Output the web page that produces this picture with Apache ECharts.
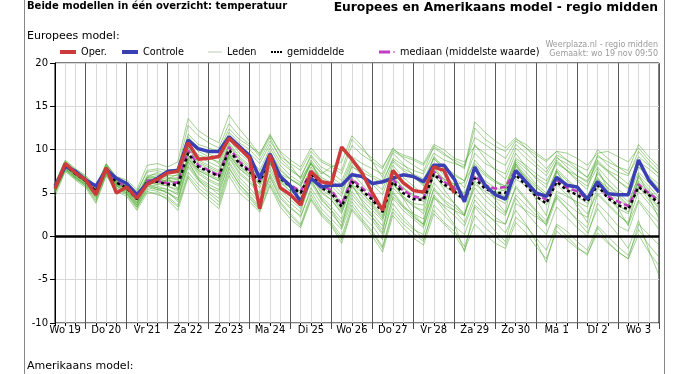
<!DOCTYPE html>
<html><head><meta charset="utf-8">
<script src="https://cdn.jsdelivr.net/npm/echarts@6/dist/echarts.min.js"></script>
<style>html,body{margin:0;padding:0;background:#fff;}#c{width:677px;height:374px;}</style>
</head><body><div id="c"></div>
<script>
// ---- data ----
const days = ['Wo 19','Do 20','Vr 21','Za 22','Zo 23','Ma 24','Di 25','Wo 26','Do 27','Vr 28','Za 29','Zo 30','Ma 1','Di 2','Wo 3','Do 4'];
const hours = ['06','12','18','00'];
const yMin = -10, yMax = 20, yStep = 5;

const oper = [5.5,8.4,7.3,6.5, 4.8,7.9,5.0,5.7, 4.4,6.0,6.6,7.3, 7.5,10.8,8.9,9.0, 9.2,11.3,10.2,9.0,
  3.2,9.4,5.6,4.8, 3.6,7.5,6.3,6.1, 10.3,8.9,7.3,5.0, 3.0,7.6,6.2,5.3, 5.1,8.0,7.6,5.0,
  null,null,null,null, null,null,null,null, null,null,null,null, null,null,null,null, null,null,null,null];
const controle = [5.8,8.1,7.5,6.5, 5.8,7.7,6.7,6.1, 4.8,6.1,6.7,7.5, 7.6,11.1,10.1,9.8, 9.8,11.5,10.4,9.3,
  6.7,9.5,6.9,5.8, 4.0,6.7,5.7,5.9, 5.9,7.1,6.9,6.1, 6.3,6.7,7.1,6.9, 6.3,8.2,8.2,6.6,
  4.0,8.0,5.9,4.8, 4.3,7.6,6.3,5.0, 4.6,6.8,5.9,5.7, 4.3,6.3,4.9,4.8, 4.8,8.8,6.5,5.1];
const gemiddelde = [5.6,8.2,7.2,6.4, 5.2,7.8,6.2,5.6, 4.3,6.3,6.3,6.0, 5.9,9.6,8.0,7.5, 6.9,10.0,8.4,7.5,
  6.3,8.8,6.7,5.7, 5.0,7.3,5.6,5.0, 3.4,6.3,5.3,4.2, 2.8,6.3,5.0,4.3, 4.2,7.2,6.0,5.2,
  4.2,6.7,5.5,5.0, 5.0,7.1,5.9,4.6, 3.8,6.3,5.3,4.8, 4.0,5.9,4.4,3.6, 3.1,5.7,4.8,3.8];
const mediaan = [5.7,8.3,7.3,6.5, 5.3,7.9,6.3,5.7, 4.4,6.4,6.4,6.1, 6.2,9.9,8.2,7.6, 7.0,10.3,8.6,7.6,
  6.5,9.0,6.9,5.9, 5.2,7.5,5.9,5.3, 3.7,6.6,5.6,4.5, 3.1,6.6,5.3,4.6, 4.4,7.5,6.3,5.6,
  4.4,7.0,5.9,5.5, 5.7,7.6,6.2,4.9, 4.2,6.5,5.6,5.2, 4.3,6.1,4.6,4.0, 3.5,6.0,5.0,4.1];
const leden = [
  [5.9,8.6,7.6,6.8, 5.6,8.2,6.6,6.0, 4.8,7.0,7.2,7.0, 7.0,11.5,10.2,9.5, 9.0,12.0,10.8,10.0, 8.8,11.0,9.2,8.4, 7.6,9.8,8.6,8.0, 7.2,10.5,9.4,8.6, 7.8,10.2,9.0,8.2, 7.5,10.4,9.6,8.6, 7.8,12.5,11.2,10.4, 9.8,11.2,10.6,9.6, 8.8,9.8,9.6,9.0, 8.2,9.6,9.8,9.2, 8.6,10.2,8.8,7.6],
  [5.2,7.8,6.9,6.0, 4.6,7.4,5.8,5.2, 3.6,5.8,5.6,5.0, 4.4,8.2,6.6,5.8, 4.8,8.6,6.8,5.6, 4.2,7.0,4.6,3.4, 2.2,5.6,3.8,2.6, 1.2,4.4,3.0,1.8, 0.2,3.8,2.2,1.0, -0.4,3.0,1.6,0.6, -1.2,2.4,1.0,0.0, -1.0,2.2,1.2,-0.2, -1.6,1.4,0.6,-0.6, -1.6,1.2,0.0,-1.2, -2.2,0.8,-1.0,-2.4],
  [5.4,8.0,7.0,6.2, 5.0,7.6,6.0,5.4, 4.0,6.0,6.2,5.8, 5.2,9.0,7.6,7.0, 6.4,9.6,8.0,7.2, 6.0,8.4,6.2,5.2, 4.4,6.8,5.0,4.2, 2.8,5.8,4.6,3.4, 2.0,5.6,4.4,3.6, 2.6,6.2,4.8,3.8, 2.6,5.6,4.2,3.2, 2.4,5.8,4.4,3.0, 1.8,4.6,3.2,1.8, 0.4,3.2,1.6,0.2, -1.4,1.8,-1.6,-4.5],
  [5.8,8.4,7.4,6.6, 5.4,8.0,6.4,5.8, 4.6,6.8,6.8,6.6, 6.8,10.8,9.2,8.6, 8.0,11.2,9.6,8.6, 7.2,9.6,7.6,6.6, 5.8,8.4,6.8,6.2, 5.0,8.0,7.4,6.8, 6.0,9.0,8.2,7.6, 7.2,9.6,8.8,8.4, 8.0,13.2,12.0,11.0, 10.2,11.4,10.2,9.0, 7.8,9.2,8.0,7.0, 6.2,8.4,7.6,7.0, 6.0,8.6,7.8,6.8],
  [5.0,7.6,6.6,5.8, 4.2,7.2,5.4,4.8, 3.2,5.4,5.2,4.6, 3.6,7.4,6.0,5.0, 4.0,7.8,6.0,4.8, 3.4,6.4,4.0,2.6, 1.4,4.8,2.8,1.6, 0.0,3.6,2.0,0.6, -1.2,3.2,1.8,0.8, 0.2,4.4,3.6,3.0, 2.4,6.0,5.2,4.4, 3.8,6.6,5.8,4.6, 3.6,6.0,4.8,3.8, 2.6,5.0,3.8,2.6, 1.4,4.2,2.8,1.6],
  [6.2,8.8,7.8,7.0, 5.8,8.4,6.8,6.2, 5.0,7.6,7.8,7.6, 7.8,12.8,11.6,10.8, 10.2,13.0,11.6,10.6, 9.2,11.4,9.0,7.8, 6.8,9.2,7.6,6.6, 5.4,8.6,7.2,6.0, 4.8,8.2,6.8,5.8, 4.8,8.4,7.0,6.0, 4.8,7.6,6.2,5.2, 4.6,8.0,6.8,5.6, 4.8,7.6,6.4,5.4, 4.4,7.4,6.0,4.8, 3.6,7.0,5.8,4.4],
  [5.5,8.1,7.1,6.3, 4.9,7.7,6.1,5.5, 4.2,6.4,6.6,6.4, 6.2,10.2,8.6,8.0, 7.4,10.6,9.0,8.0, 6.8,9.8,7.8,6.6, 5.8,8.6,6.4,5.4, 3.8,7.4,6.0,4.8, 3.4,7.0,5.6,4.6, 4.0,7.8,6.4,5.4, 4.4,8.2,7.0,6.2, 5.8,9.0,8.2,7.2, 6.4,8.6,7.6,6.6, 5.8,8.0,6.6,5.4, 4.6,7.4,6.2,5.0],
  [5.3,7.9,6.8,5.9, 4.4,7.5,5.6,5.0, 3.4,5.6,5.4,5.2, 4.0,8.0,6.4,5.6, 5.2,8.4,6.4,5.2, 3.8,6.8,4.4,3.2, 2.4,5.2,3.2,2.0, 0.8,4.0,2.4,1.2, -0.4,4.6,3.4,2.6, 2.0,5.4,4.0,3.0, 1.6,4.8,3.4,2.2, 1.4,4.4,2.8,1.4, 0.2,3.4,2.2,1.0, 0.0,3.8,2.6,1.2, 0.6,4.0,2.4,0.8],
  [5.7,8.3,7.3,6.5, 5.3,7.9,6.3,5.7, 4.4,6.6,6.4,6.2, 6.4,10.6,9.4,9.0, 8.6,11.6,10.4,9.6, 8.4,10.6,8.6,7.6, 6.8,9.4,8.0,7.4, 6.4,9.2,8.4,7.8, 7.2,9.8,9.2,8.8, 8.2,10.2,9.4,8.8, 8.2,11.4,10.6,9.8, 9.0,11.0,10.2,9.4, 8.6,9.8,8.8,7.8, 6.8,8.8,7.6,6.4, 5.6,8.0,7.0,6.0],
  [4.6,7.5,6.5,5.6, 3.8,7.0,5.2,4.6, 3.0,5.0,5.0,4.2, 3.0,6.8,5.2,4.2, 3.2,7.0,5.0,4.0, 2.8,5.8,3.4,2.0, 1.0,4.2,2.4,1.2, -0.8,3.0,1.6,0.0, -1.8,2.4,1.0,-0.2, -1.0,2.6,1.4,0.2, -1.6,1.4,0.2,-0.8, -1.4,1.6,0.4,-1.2, -2.6,0.6,-0.4,-1.4, -2.0,0.4,-0.8,-1.8, -2.6,0.2,-1.8,-3.4],
  [6.0,8.5,7.5,6.7, 5.7,8.3,6.7,6.1, 5.2,7.4,7.6,7.2, 7.4,11.8,10.6,10.2, 9.8,12.4,11.2,10.4, 9.6,11.6,9.8,8.8, 8.0,10.2,8.8,8.2, 7.6,11.2,10.0,9.0, 8.0,10.0,9.4,9.0, 8.4,10.6,10.0,9.0, 8.6,10.4,9.6,8.8, 8.2,10.6,9.6,8.4, 7.4,9.4,8.8,8.2, 7.6,10.0,9.0,8.0, 7.2,9.2,8.2,7.2],
  [5.1,7.7,6.7,6.1, 4.7,7.3,5.9,5.3, 3.8,6.0,5.8,5.4, 4.8,8.8,7.2,6.4, 5.8,9.2,7.4,6.4, 5.0,8.0,5.6,4.6, 3.6,6.4,4.6,3.4, 2.0,5.2,3.6,2.6, 1.2,5.0,3.4,2.2, 1.4,5.6,4.2,3.4, 2.4,6.4,4.8,3.6, 2.6,5.6,4.2,2.8, 1.2,4.4,3.2,2.0, 1.0,4.8,3.6,2.4, 1.6,5.2,3.8,2.4],
  [5.6,8.2,7.2,6.4, 5.0,7.8,6.0,5.6, 4.2,6.2,6.0,6.6, 7.2,11.0,9.8,9.2, 8.4,11.4,10.0,9.0, 7.6,10.2,8.2,7.0, 6.2,8.8,7.2,8.0, 8.6,11.6,10.4,8.6, 6.8,9.6,8.4,7.0, 5.8,9.0,7.8,6.8, 5.6,8.8,7.4,6.4, 5.4,8.4,7.0,5.8, 4.6,7.8,6.6,5.6, 4.6,7.2,6.0,5.0, 4.0,6.8,5.4,4.2],
  [5.4,8.0,7.0,6.2, 4.8,7.6,5.8,5.2, 3.8,6.0,5.6,5.4, 5.0,9.0,7.4,6.6, 6.0,9.4,7.8,6.8, 5.6,8.6,6.4,5.2, 4.4,7.0,5.2,4.2, 2.6,5.8,4.2,3.0, 1.8,5.2,3.6,2.4, 1.2,4.6,3.0,1.4, -1.8,3.4,2.0,0.6, -0.6,3.8,3.0,2.2, 1.4,5.2,4.6,4.0, 3.4,6.6,5.6,4.6, 3.4,6.2,4.8,3.4],
  [5.9,8.5,7.5,6.6, 5.5,8.1,6.5,5.9, 4.6,6.8,7.0,6.8, 6.6,10.4,8.8,8.2, 7.6,10.8,9.2,8.2, 6.8,9.4,7.2,6.0, 5.2,8.0,6.6,5.8, 4.6,8.2,7.0,6.2, 5.4,8.6,7.6,6.8, 6.0,9.2,8.0,7.2, 6.4,9.6,8.4,7.8, 7.2,10.2,9.0,8.0, 7.0,9.0,8.4,7.6, 6.8,9.2,8.6,8.0, 7.6,10.6,9.2,8.0],
  [5.2,7.8,6.8,6.0, 4.5,7.4,5.8,5.0, 3.6,5.8,5.4,5.0, 4.2,8.6,6.8,6.0, 5.4,9.0,7.2,6.2, 4.8,7.6,5.4,4.2, 3.2,6.2,4.2,3.0, 1.6,4.8,3.4,2.2, 0.8,4.4,3.0,2.0, 1.0,4.8,3.4,2.4, 1.2,4.2,2.8,1.6, 0.4,3.0,1.4,-0.6, -3.0,1.2,0.0,-1.2, -2.2,1.0,-0.6,-1.8, -2.6,1.4,0.2,-1.0],
  [5.6,8.1,7.1,6.3, 5.1,7.7,6.2,5.6, 4.4,6.6,6.8,6.2, 5.6,9.4,7.8,7.2, 6.6,9.8,8.2,7.2, 6.2,9.2,7.0,5.8, 5.0,7.6,5.8,4.8, 3.2,6.6,5.4,4.2, 3.0,6.8,5.6,4.8, 4.4,8.0,6.6,5.8, 5.0,7.6,6.4,5.6, 5.2,8.2,6.8,5.2, 4.4,7.4,6.0,5.2, 4.4,6.8,5.2,4.2, 3.4,6.4,5.2,4.0],
  [5.8,8.3,7.4,6.6, 5.4,8.0,6.4,5.8, 4.6,6.6,6.4,6.4, 6.6,10.2,8.4,7.8, 7.2,10.4,8.8,7.8, 6.6,8.4,6.4,5.6, 4.8,7.2,5.4,4.6, 3.0,6.0,5.0,3.8, 2.4,6.0,4.6,3.8, 3.6,7.0,5.8,5.0, 4.0,7.0,5.6,5.0, 5.4,8.6,7.4,6.0, 5.0,7.0,5.6,4.6, 3.8,6.4,4.8,3.6, 2.8,5.8,4.6,3.2],
  [5.5,8.1,7.2,6.4, 5.2,7.8,6.2,5.6, 4.4,6.2,6.0,5.8, 5.4,9.2,7.6,7.0, 6.4,9.4,7.8,7.0, 6.0,8.8,7.2,6.6, 6.0,8.4,7.4,6.8, 6.0,8.8,7.8,7.0, 6.4,8.8,7.8,7.2, 6.6,9.0,7.8,7.0, 6.4,8.4,7.2,6.4, 5.8,8.8,7.8,6.8, 6.0,8.4,7.6,7.0, 6.4,8.6,7.4,6.4, 5.4,8.0,6.8,5.6],
  [5.4,8.0,7.0,6.2, 4.8,7.6,6.0,5.4, 4.0,6.8,7.4,6.8, 5.4,8.6,6.6,5.2, 4.4,8.0,6.0,4.6, 3.2,7.2,5.0,3.8, 2.8,6.6,4.4,3.0, 1.0,6.0,4.0,2.2, 0.4,6.4,4.4,2.6, 1.4,7.4,5.4,3.8, 2.4,8.0,6.0,4.2, 2.8,8.4,6.4,4.2, 2.4,7.6,5.4,3.4, 1.6,7.8,5.4,3.2, 1.2,7.2,4.6,2.0],
  [6.0,8.7,7.7,6.9, 5.6,8.3,6.9,6.5, 5.4,8.2,8.4,8.0, 8.6,13.6,12.2,11.4, 10.8,14.0,12.4,11.0, 9.4,11.8,9.6,8.2, 6.6,8.4,6.4,5.2, 3.6,6.8,5.0,3.6, 2.2,6.2,4.6,3.4, 3.0,7.6,6.6,6.0, 6.2,10.6,9.0,7.6, 6.6,9.6,8.0,6.6, 5.6,8.8,7.6,6.4, 5.4,9.4,8.2,7.4, 7.0,9.8,8.4,7.2],
  [5.0,7.7,6.7,5.8, 4.0,7.1,5.5,4.9, 3.4,5.2,4.8,4.4, 3.4,7.0,5.6,4.6, 3.6,7.4,5.6,4.4, 3.0,6.0,3.8,2.4, 1.2,4.4,2.6,1.4, -0.4,3.2,1.8,0.4, -1.4,2.8,1.4,0.4, -0.6,3.6,2.4,1.2, 0.2,3.6,2.6,1.8, 1.4,4.8,3.6,2.4, 1.6,4.8,3.8,2.8, 2.2,5.6,4.4,3.2, 2.6,5.8,4.2,2.8]
];

// ---- chart ----
const FONT = "'DejaVu Sans', Verdana, sans-serif";
const cats = controle.map((_, i) => days[Math.floor((i + 1) / 4)] + ' ' + hours[i % 4]);
const dayOf = v => v.slice(0, v.lastIndexOf(' '));
const isNoon = (i, v) => v.endsWith(' 12');
const isMidnight = (i, v) => v.endsWith(' 00');

const memberColor = 'rgba(72,165,40,0.5)';
const series = [];
leden.forEach(m => series.push({
  name: 'Leden', type: 'line', data: m, symbol: 'none', silent: true, z: 2,
  lineStyle: { color: memberColor, width: 1 }, itemStyle: { color: '#b9cdb3' },
  emphasis: { disabled: true }
}));
series.push({ name: 'mediaan (middelste waarde)', type: 'line', data: mediaan, symbol: 'none', z: 3,
  lineStyle: { color: '#c03cc0', width: 2.5, type: [6, 3] }, itemStyle: { color: '#c03cc0' }, emphasis: { disabled: true } });
series.push({ name: 'gemiddelde', type: 'line', data: gemiddelde, symbol: 'none', z: 4,
  lineStyle: { color: '#000', width: 2.5, type: [3, 3] }, itemStyle: { color: '#000' }, emphasis: { disabled: true },
  markLine: { silent: true, symbol: 'none', z: 10, label: { show: false }, animation: false,
    lineStyle: { color: '#000', width: 2.5, type: 'solid' }, emphasis: { disabled: true }, data: [{ yAxis: 0 }] } });
series.push({ name: 'Controle', type: 'line', data: controle, symbol: 'none', z: 5,
  lineStyle: { color: '#3a40b4', width: 3.5 }, itemStyle: { color: '#3a40b4' }, emphasis: { disabled: true } });
series.push({ name: 'Oper.', type: 'line', data: oper, symbol: 'none', z: 6,
  lineStyle: { color: '#cc3b3b', width: 3.5 }, itemStyle: { color: '#cc3b3b' }, emphasis: { disabled: true } });

function legendItem(name, left, w, h, icon) {
  return { data: [name], left: left, top: 47, padding: 0, itemWidth: w, itemHeight: h, icon: icon,
    selectedMode: false, itemStyle: { borderWidth: 0 },
    textStyle: { fontFamily: FONT, fontSize: 9.7, color: '#000' } };
}

const option = {
  animation: false,
  backgroundColor: '#fff',
  textStyle: { fontFamily: FONT },
  grid: { left: 55, top: 63, width: 604, height: 260, show: true, borderColor: '#000', borderWidth: 1, backgroundColor: 'transparent' },
  legend: [
    legendItem('Oper.', 60, 16, 4, 'rect'),
    legendItem('Controle', 122, 16, 4, 'rect'),
    legendItem('Leden', 208, 14, 1, 'rect'),
    legendItem('gemiddelde', 271, 11, 2, 'path://M0,0h2v2h-2zM3,0h2v2h-2zM6,0h2v2h-2zM9,0h2v2h-2z'),
    legendItem('mediaan (middelste waarde)', 379, 16, 3, 'path://M0,0h11v3h-11zM14,1h2v1h-2z')
  ],
  xAxis: [{
    type: 'category', data: cats, boundaryGap: false, position: 'bottom',
    axisLine: { show: false, onZero: false },
    axisTick: { show: true, interval: 0, length: 3, lineStyle: { color: '#000' } },
    axisLabel: { interval: isNoon, formatter: dayOf, fontFamily: FONT, fontSize: 10, color: '#000', margin: 2 },
    splitLine: { show: true, interval: 0, lineStyle: { color: '#d9d9d9', width: 1 } }
  }, {
    type: 'category', data: cats, boundaryGap: false, position: 'bottom',
    axisLine: { show: false, onZero: false },
    axisTick: { show: true, interval: isMidnight, length: 6, lineStyle: { color: '#444' } },
    axisLabel: { show: false },
    splitLine: { show: true, interval: isMidnight, lineStyle: { color: '#5a5a5a', width: 1 } }
  }],
  yAxis: {
    type: 'value', min: yMin, max: yMax, interval: yStep,
    axisLine: { show: true, lineStyle: { color: '#000' } },
    axisTick: { show: true, length: 5, lineStyle: { color: '#000' } },
    axisLabel: { fontFamily: FONT, fontSize: 10, color: '#000', margin: 7 },
    splitLine: { show: true, lineStyle: { color: '#d9d9d9', width: 1 } }
  },
  graphic: [
    { type: 'line', silent: true, shape: { x1: 24.5, y1: 0, x2: 24.5, y2: 374 }, style: { stroke: '#888', lineWidth: 1 } },
    { type: 'line', silent: true, shape: { x1: 664.5, y1: 0, x2: 664.5, y2: 374 }, style: { stroke: '#888', lineWidth: 1 } },
    { type: 'text', silent: true, style: { text: 'Beide modellen in één overzicht: temperatuur', x: 27, y: 6.5, font: "bold 10px " + FONT, fill: '#000', align: 'left', verticalAlign: 'middle' } },
    { type: 'text', silent: true, style: { text: 'Europees en Amerikaans model - regio midden', x: 658, y: 8, font: "bold 12.3px " + FONT, fill: '#000', align: 'right', verticalAlign: 'middle' } },
    { type: 'text', silent: true, style: { text: 'Europees model:', x: 27, y: 36, font: "11px " + FONT, fill: '#000', align: 'left', verticalAlign: 'middle' } },
    { type: 'text', silent: true, style: { text: 'Weerplaza.nl - regio midden', x: 658, y: 45, font: "8px " + FONT, fill: '#9a9a9a', align: 'right', verticalAlign: 'middle' } },
    { type: 'text', silent: true, style: { text: 'Gemaakt: wo 19 nov 09:50', x: 658, y: 54, font: "8px " + FONT, fill: '#9a9a9a', align: 'right', verticalAlign: 'middle' } },
    { type: 'text', silent: true, style: { text: 'Amerikaans model:', x: 27, y: 366, font: "11px " + FONT, fill: '#000', align: 'left', verticalAlign: 'middle' } }
  ],
  series: series
};

const chart = echarts.init(document.getElementById('c'), null, { renderer: 'canvas' });
chart.setOption(option);
</script>
</body></html>
